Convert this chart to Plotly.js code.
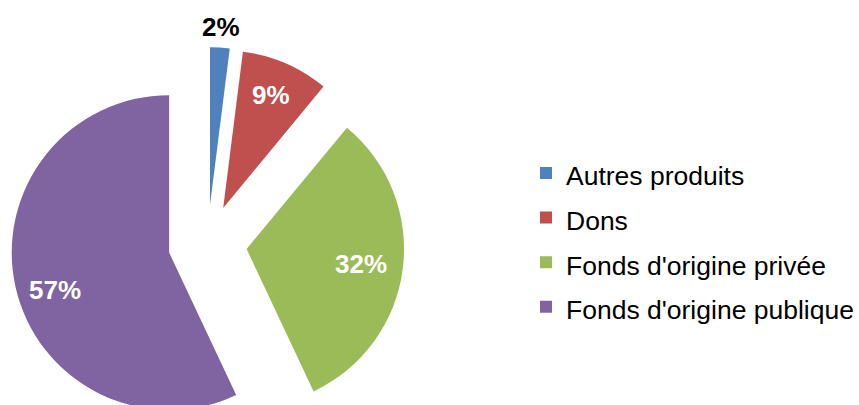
<!DOCTYPE html>
<html>
<head>
<meta charset="utf-8">
<script src="https://cdn.plot.ly/plotly-3.0.1.min.js"></script>
<style>
html,body{margin:0;padding:0;overflow:hidden;background:#fff;}
#chart{width:859px;height:492px;}
</style>
</head>
<body>
<div id="chart"></div>
<script>
const categories = ["Autres produits", "Dons", "Fonds d'origine privée", "Fonds d'origine publique"];
const values = [2, 9, 32, 57];
const percentLabels = ["2%", "9%", "32%", "57%"];
const colors = ["#4F81BD", "#C0504D", "#9BBB59", "#8064A2"];
const textColors = ["#000000", "#FFFFFF", "#FFFFFF", "#FFFFFF"];

// layout / styling constants
const W = 859, H = 492;
const PULL = 0.25;
const CX = 212, CY = 244, BOX = 402;             // pie box centre & size (px)
const R = BOX / 2 / (1 + PULL);                  // plotly's resulting radius
const labelRadius = [1.10, 0.76, 0.735, 0.76];   // label distance from slice apex (fraction of radius)
const labelAngleShift = [0, 0, 0, -4];           // degrees

const labels = categories.map(c => '<span style="font-size:26.5px">' + c + '</span>');

const trace = {
  type: 'pie',
  labels: labels,
  values: values,
  sort: false,
  direction: 'clockwise',
  rotation: 0,
  pull: values.map(() => PULL),
  marker: {colors: colors, line: {width: 0}},
  textinfo: 'none',
  hoverinfo: 'label+percent',
  domain: {
    x: [(CX - BOX / 2) / W, (CX + BOX / 2) / W],
    y: [1 - (CY + BOX / 2) / H, 1 - (CY - BOX / 2) / H]
  },
  showlegend: true
};

// percentage labels placed along each slice's mid-angle
const total = values.reduce((a, b) => a + b, 0);
let cum = 0;
const annotations = values.map((v, i) => {
  const mid = (cum + v / 2) / total * 360 + labelAngleShift[i];
  cum += v;
  const a = mid * Math.PI / 180;
  const d = PULL * R + labelRadius[i] * R;
  const px = CX + d * Math.sin(a);
  const py = CY - d * Math.cos(a);
  return {
    xref: 'paper', yref: 'paper',
    x: px / W, y: 1 - py / H,
    xanchor: 'center', yanchor: 'middle',
    text: percentLabels[i],
    showarrow: false,
    font: {family: 'Arial, Liberation Sans, sans-serif', size: 26, color: textColors[i], weight: 'bold'}
  };
});

const layout = {
  width: W,
  height: H,
  margin: {l: 0, r: 0, t: 0, b: 0},
  paper_bgcolor: '#ffffff',
  plot_bgcolor: '#ffffff',
  showlegend: true,
  font: {family: 'Arial, Liberation Sans, sans-serif', color: '#000000'},
  annotations: annotations,
  legend: {
    x: 0.6255, y: 0.704, xanchor: 'left', yanchor: 'top',
    font: {family: 'Arial, Liberation Sans, sans-serif', size: 32, color: '#000000'},
    bgcolor: 'rgba(0,0,0,0)', borderwidth: 0,
    itemwidth: 30, traceorder: 'normal'
  }
};

Plotly.newPlot('chart', [trace], layout, {displayModeBar: false, staticPlot: true});
</script>
</body>
</html>
